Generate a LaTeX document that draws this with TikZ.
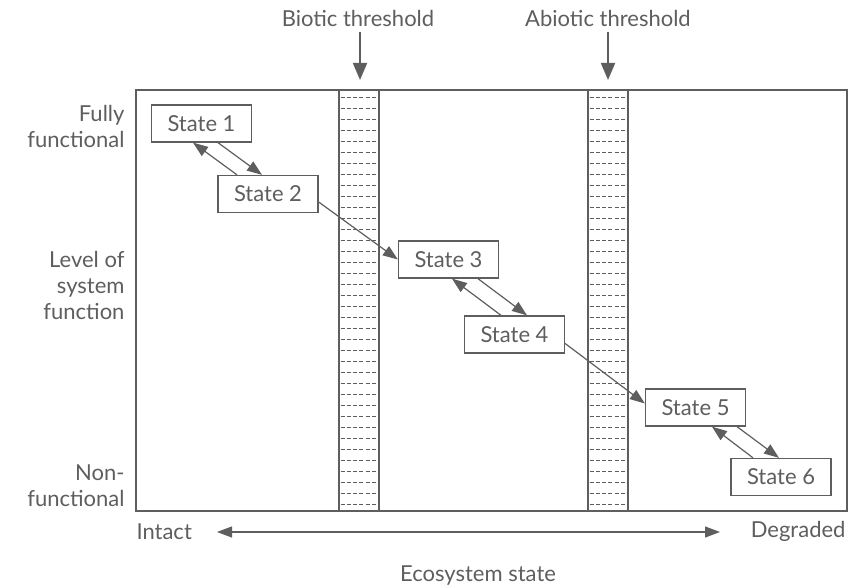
\documentclass[tikz,border=0pt]{standalone}
\usepackage{fontspec}
\setmainfont{Lato}
\usetikzlibrary{arrows.meta,calc}
\definecolor{ink}{HTML}{5E5E5E}
\begin{document}
\begin{tikzpicture}[x=1pt,y=-1pt,
  every node/.style={text=ink,font=\fontsize{22}{26}\selectfont},
  statebox/.style={draw=ink,line width=1.3pt,fill=white,minimum width=100pt,minimum height=37pt,inner sep=0pt},
  conn/.style={draw=ink,line width=1.2pt,-{Triangle[length=15pt,width=11pt]}},
  tconn/.style={draw=ink,line width=1.8pt,-{Triangle[length=17pt,width=14pt]}},
  lbl/.style={align=right,anchor=east},
  band/.style={draw=ink,line width=1.3pt,fill=white}]
\useasboundingbox (0,0) rectangle (848,588);
% frame
\draw[ink,line width=2pt] (136,90) rectangle (847,511);
% bands
\foreach \xl in {339,588}{
  \draw[band] (\xl,90) rectangle (\xl+40,511);
  \foreach \k in {0,...,37}{
    \draw[ink,line width=0.9pt,dash pattern=on 4pt off 2.3pt] (\xl+1.5,97.3+11*\k) -- (\xl+38.5,97.3+11*\k);
  }
}
% threshold labels
\node (bt) at (358,18) {Biotic threshold};
\node (at) at (608,18) {Abiotic threshold};
\coordinate (btT) at (360,80);
\coordinate (atT) at (608,80);
\draw[tconn] (360,32) -- (btT);
\draw[tconn] (608,32) -- (atT);
% left labels
\node[lbl] (ff) at (128,126) {Fully\\functional};
\node[lbl] (ls) at (128,285) {Level of\\system\\function};
\node[lbl] (nf) at (128,486) {Non-\\functional};
% states
\node[statebox] (s1) at (201.5,123.5) {State 1};
\node[statebox] (s2) at (268,194) {State 2};
\node[statebox] (s3) at (448.5,259.5) {State 3};
\node[statebox] (s4) at (514.5,334.5) {State 4};
\node[statebox] (s5) at (695.5,407.5) {State 5};
\node[statebox] (s6) at (781,477) {State 6};
% pair arrows
\draw[conn] ($(s1.south)+(16.5,0)$) -- ($(s2.north)+(-6,0)$);
\draw[conn] ($(s2.north)+(-31,0)$) -- ($(s1.south)+(-8.5,0)$);
\draw[conn] ($(s3.south)+(29.5,0)$) -- ($(s4.north)+(12.5,0)$);
\draw[conn] ($(s4.north)+(-13.5,0)$) -- ($(s3.south)+(3.5,0)$);
\draw[conn] ($(s5.south)+(41.5,0)$) -- ($(s6.north)+(-2,0)$);
\draw[conn] ($(s6.north)+(-28,0)$) -- ($(s5.south)+(16.5,0)$);
% transitions
\draw[conn] ($(s2.east)+(0,8)$) -- (s3.west);
\draw[conn] ($(s4.east)+(0,9)$) -- ($(s5.west)+(0,-4)$);
% bottom axis
\node[anchor=west] (intact) at (133,532) {Intact};
\node[anchor=east] (degr) at (849,531) {Degraded};
\coordinate (axL) at (217,532);
\coordinate (axR) at (720,532);
\draw[draw=ink,line width=1.2pt,{Triangle[length=15pt,width=11pt]}-{Triangle[length=15pt,width=11pt]}] (axL) -- (axR);
\node (eco) at (478,575) {Ecosystem state};
\end{tikzpicture}
\end{document}
